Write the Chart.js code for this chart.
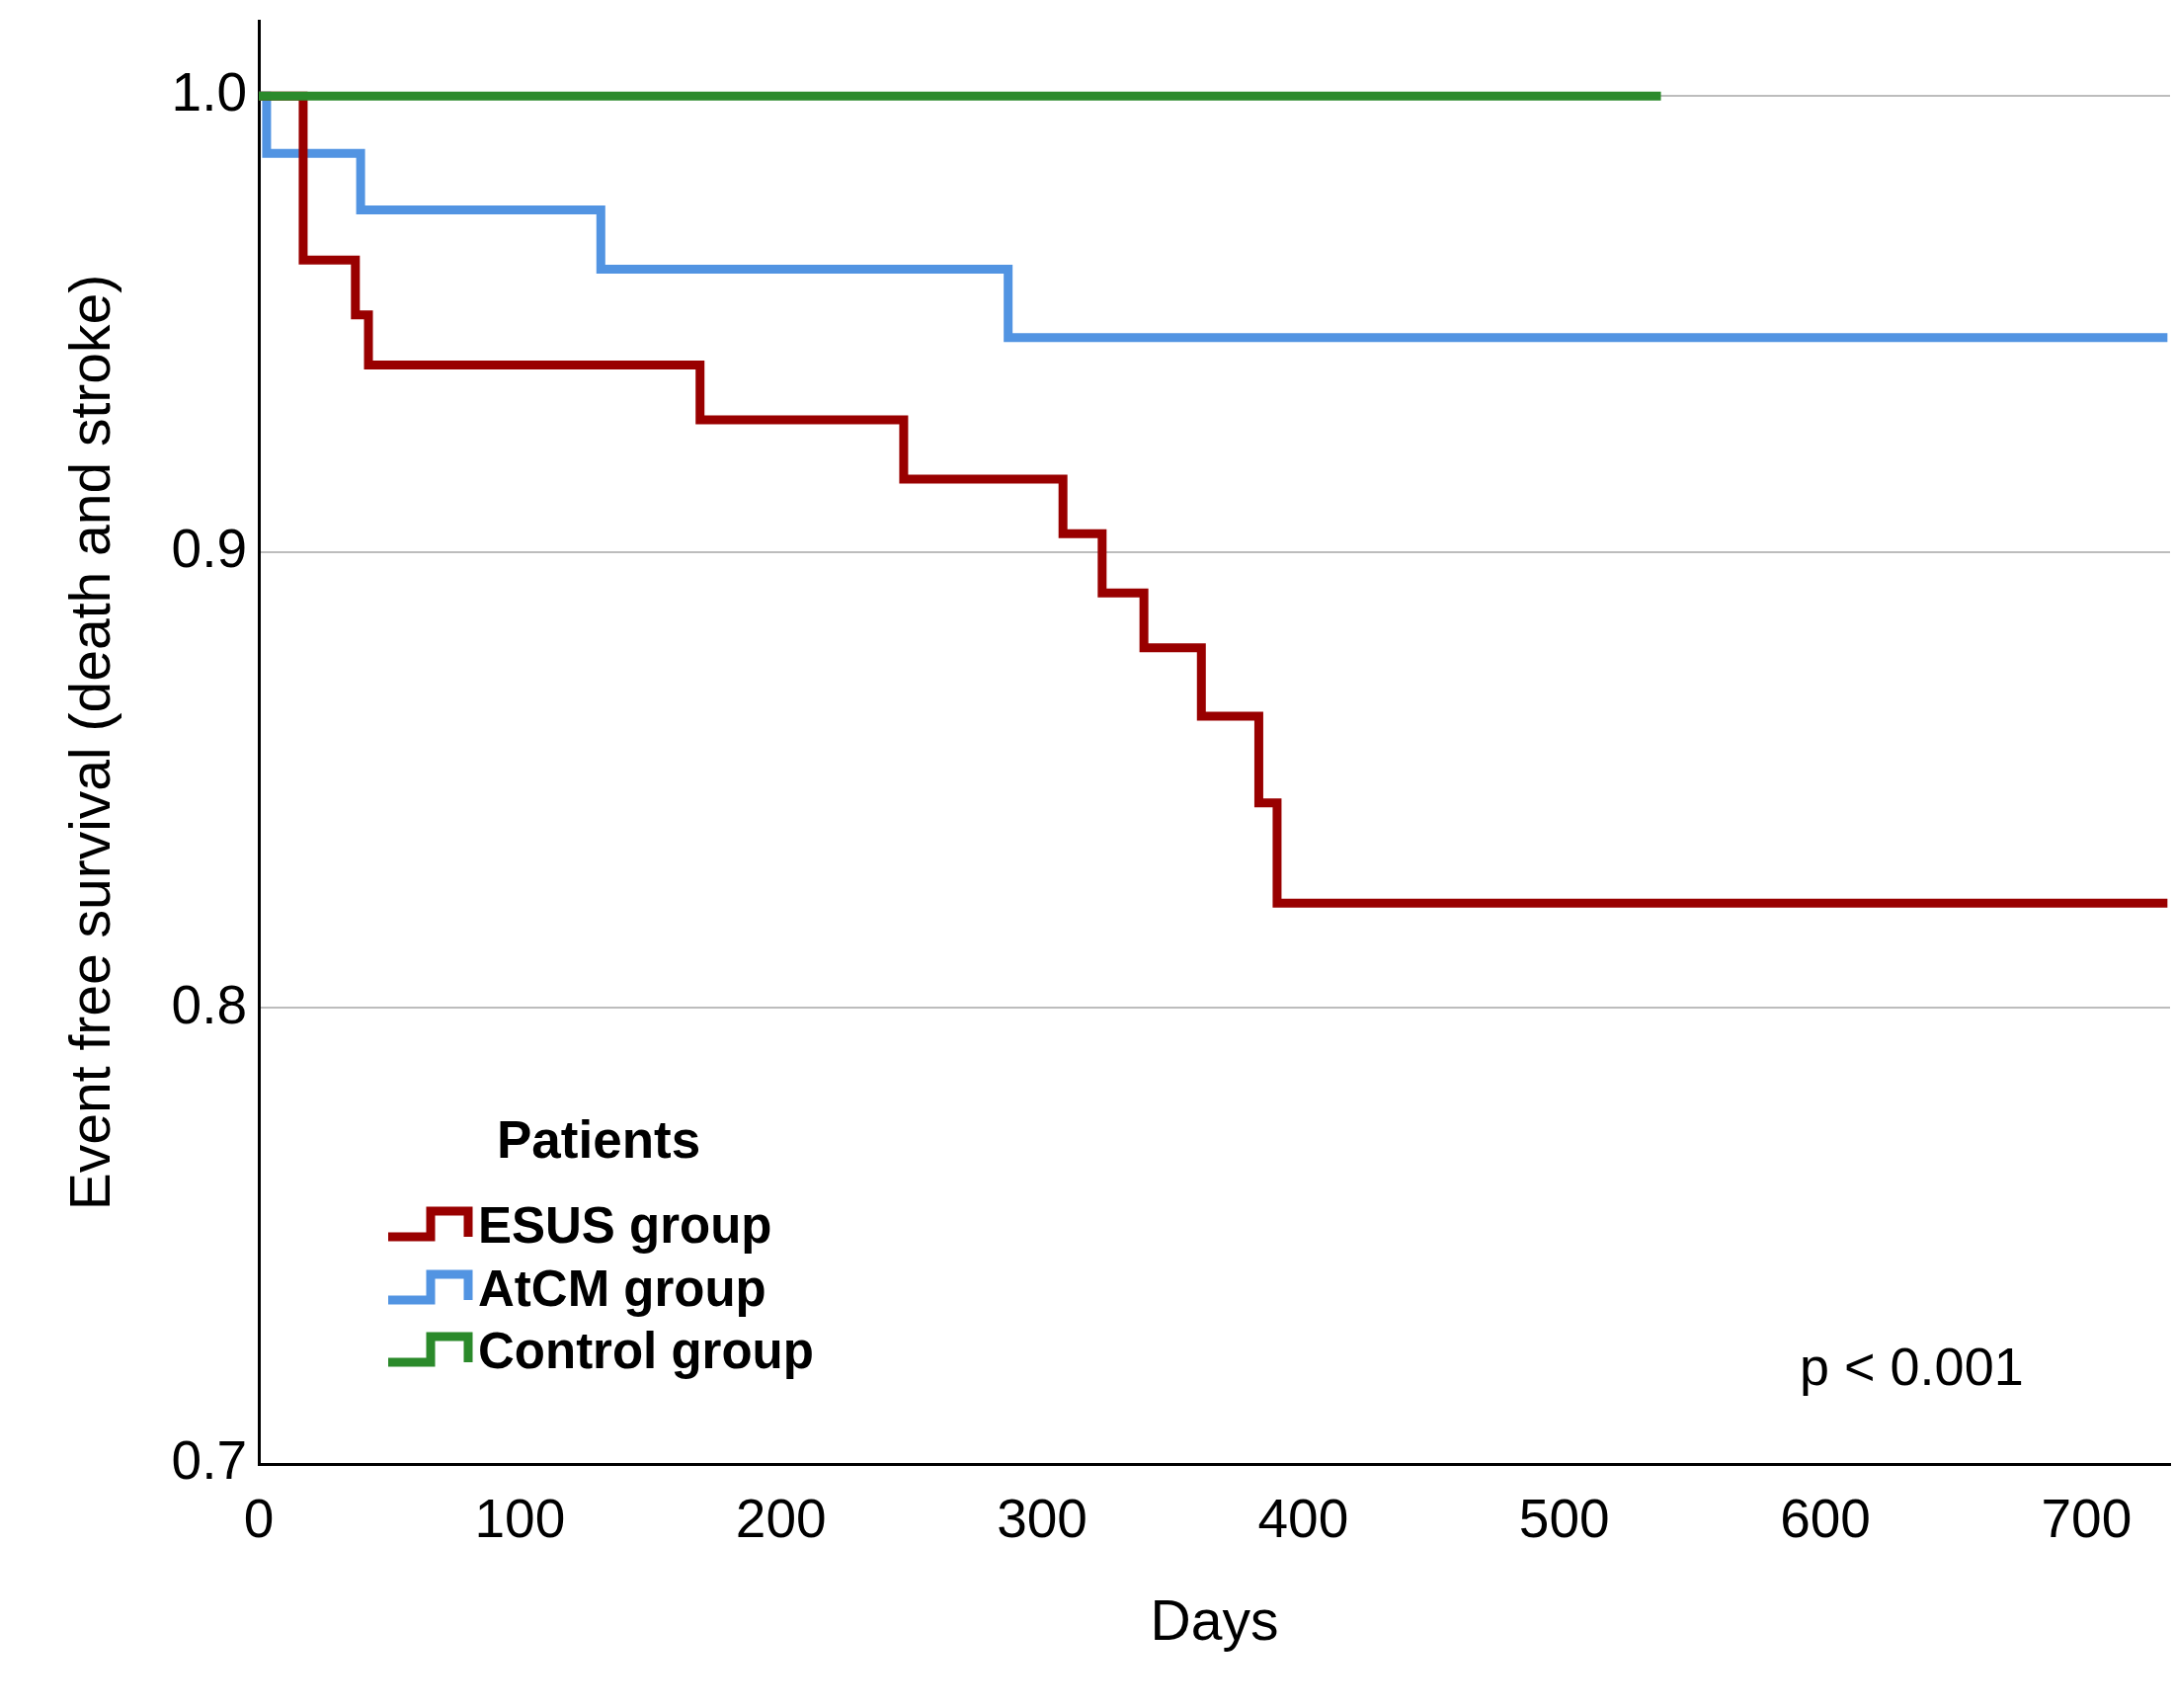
<!DOCTYPE html>
<html>
<head>
<meta charset="utf-8">
<script src="https://cdn.jsdelivr.net/npm/chart.js@4.4.1/dist/chart.umd.min.js"></script>
<style>
  html, body { margin: 0; padding: 0; background: #fff; }
  #wrap { width: 2201px; height: 1729px; position: relative; }
</style>
</head>
<body>
<div id="wrap"><canvas id="km"></canvas></div>
<script>
// Kaplan-Meier steps (day of event, survival after it)
const esusDays = [0, 17, 37, 42, 169, 247, 308, 323, 339, 361, 383, 390, 731];
const esusSurv = [1.0, 0.964, 0.952, 0.941, 0.929, 0.916, 0.904, 0.891, 0.879, 0.864, 0.845, 0.823, 0.823];
const atcmDays = [0, 3, 39, 131, 287, 731];
const atcmSurv = [1.0, 0.9874, 0.975, 0.962, 0.947, 0.947];
const ctrlDays = [0, 537];
const ctrlSurv = [1.0, 1.0];

const groupNames = ['ESUS group', 'AtCM group', 'Control group'];
const xTickValues = [0, 100, 200, 300, 400, 500, 600, 700];
const yTickValues = [0.7, 0.8, 0.9, 1.0];

const FONT = "'Liberation Sans', Arial, sans-serif";

function pts(days, surv) {
  return days.map((d, i) => ({ x: d, y: surv[i] }));
}

// legend drawn inside the plot, SPSS style, with little step icons
const kmLegend = {
  id: 'kmLegend',
  afterDraw(chart) {
    const ctx = chart.ctx;
    ctx.save();
    ctx.fillStyle = '#000';
    ctx.textBaseline = 'middle';
    ctx.textAlign = 'left';
    ctx.font = 'bold 53px ' + FONT;
    ctx.fillText('Patients', 503, 1157);

    const order = [1, 2, 0]; // dataset index for ESUS, AtCM, Control
    const rowsY = [1244, 1308, 1371];
    order.forEach((di, i) => {
      const ds = chart.data.datasets[di];
      const cy = rowsY[i];
      ctx.strokeStyle = ds.borderColor;
      ctx.lineWidth = 9;
      ctx.lineJoin = 'miter';
      ctx.beginPath();
      ctx.moveTo(393, cy + 8);
      ctx.lineTo(436, cy + 8);
      ctx.lineTo(436, cy - 18);
      ctx.lineTo(474, cy - 18);
      ctx.lineTo(474, cy + 8);
      ctx.stroke();
      ctx.fillStyle = '#000';
      ctx.font = 'bold 51px ' + FONT;
      ctx.fillText(ds.label, 484, cy);
    });

    ctx.font = '54px ' + FONT;
    ctx.fillText('p < 0.001', 1822, 1387);
    ctx.restore();
  }
};

new Chart(document.getElementById('km'), {
  type: 'scatter',
  data: {
    datasets: [
      {
        label: groupNames[2],
        data: pts(ctrlDays, ctrlSurv),
        borderColor: '#2b8a2b',
        order: 0
      },
      {
        label: groupNames[0],
        data: pts(esusDays, esusSurv),
        borderColor: '#990000',
        order: 1
      },
      {
        label: groupNames[1],
        data: pts(atcmDays, atcmSurv),
        borderColor: '#5294e2',
        order: 2
      }
    ].map((d) => Object.assign(d, {
      showLine: true,
      stepped: true,
      borderWidth: 9,
      pointRadius: 0,
      pointHoverRadius: 0,
      fill: false
    }))
  },
  options: {
    responsive: true,
    maintainAspectRatio: false,
    devicePixelRatio: 1,
    animation: false,
    events: [],
    layout: {
      padding: { left: 0, top: 21, right: 4, bottom: 0 }
    },
    scales: {
      x: {
        type: 'linear',
        min: 0,
        max: 732,
        afterBuildTicks: (scale) => { scale.ticks = xTickValues.map((v) => ({ value: v })); },
        afterFit: (scale) => { scale.height = 247; scale.paddingRight = 0; },
        ticks: {
          color: '#000',
          padding: 26,
          maxRotation: 0,
          autoSkip: false,
          font: { family: FONT, size: 55 }
        },
        grid: { display: false, drawTicks: false },
        border: { display: true, color: '#000', width: 3 },
        title: {
          display: true,
          text: 'Days',
          color: '#000',
          font: { family: FONT, size: 57, lineHeight: 1 },
          padding: { top: 0, bottom: 56 }
        }
      },
      y: {
        type: 'linear',
        min: 0.7,
        max: 1.0165,
        afterBuildTicks: (scale) => { scale.ticks = yTickValues.map((v) => ({ value: v })); },
        afterFit: (scale) => { scale.width = 262; scale.paddingTop = 0; scale.paddingBottom = 0; },
        ticks: {
          color: '#000',
          padding: 12,
          autoSkip: false,
          font: { family: FONT, size: 55 },
          callback: (v) => Number(v).toFixed(1)
        },
        grid: {
          drawTicks: false,
          lineWidth: 2,
          color: (c) => (c.tick && c.tick.value < 0.75 ? 'rgba(0,0,0,0)' : '#bdbdbd')
        },
        border: { display: true, color: '#000', width: 3 },
        title: {
          display: true,
          text: 'Event free survival (death and stroke)',
          color: '#000',
          font: { family: FONT, size: 57, lineHeight: 1 },
          padding: { top: 67, bottom: 0 }
        }
      }
    },
    plugins: {
      legend: { display: false },
      tooltip: { enabled: false }
    }
  },
  plugins: [kmLegend]
});
</script>
</body>
</html>
